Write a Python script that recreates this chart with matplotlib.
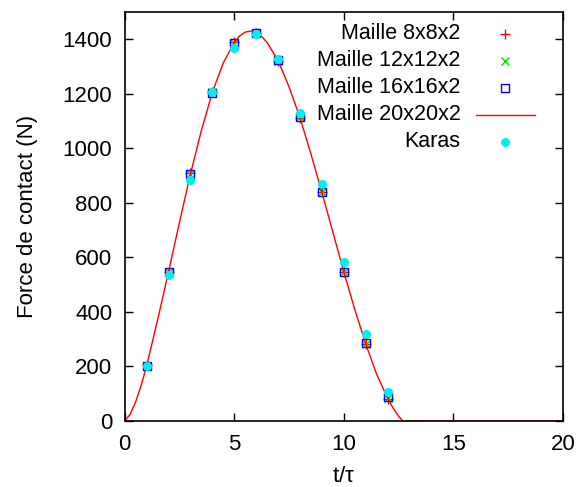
import matplotlib.pyplot as plt
import numpy as np

plt.rcParams.update({'font.family': ['Liberation Sans', 'DejaVu Sans'],
                     'font.size': 16})

# discrete results (t/tau, force N)
t_pts = [1, 2, 3, 4, 5, 6, 7, 8, 9, 10, 11, 12]
f_8 = [204, 548, 908, 1206, 1388, 1423, 1320, 1112, 838, 548, 283, 80]
f_12 = [203, 547, 906, 1205, 1387, 1422, 1321, 1113, 839, 547, 284, 84]
f_16 = [202, 546, 906, 1204, 1386, 1421, 1322, 1114, 838, 546, 285, 89]
f_karas = [202, 534, 884, 1206, 1367, 1418, 1327, 1129, 870, 582, 319, 108]

# continuous curve, 20x20x2 mesh
t_curve = [0, 0.25, 0.5, 0.75, 1, 1.5, 2, 2.5, 3, 3.5, 4, 4.5, 5, 5.25, 5.5,
           5.75, 6, 6.25, 6.5, 7, 7.5, 8, 8.5, 9, 9.5, 10, 10.5, 11, 11.5,
           12, 12.25, 12.5, 12.7, 13, 20]
f_curve = [0, 25, 70, 130, 202, 370, 547, 728, 905, 1065, 1205, 1313, 1388,
           1412, 1426, 1430, 1424, 1410, 1388, 1322, 1226, 1113, 980, 839,
           694, 548, 410, 284, 172, 84, 48, 18, 0, 0, 0]

labels = ['Maille 8x8x2', 'Maille 12x12x2', 'Maille 16x16x2',
          'Maille 20x20x2', 'Karas']

fig = plt.figure(figsize=(5.76, 4.87), dpi=100)
ax = fig.add_axes([0.2165, 0.1355, 0.7605, 0.84])

st8 = dict(ls='none', marker='+', ms=6.5, mew=1, color='#ff0000')
st12 = dict(ls='none', marker='x', ms=5.5, mew=1, color='#00e000')
st16 = dict(ls='none', marker='s', ms=6, mew=1, mfc='none', color='#0000ff')
stk = dict(ls='none', marker='o', ms=6.5, color='#00eeee', mec='none')

ax.plot(t_pts, f_8, **st8)
ax.plot(t_pts, f_12, **st12)
ax.plot(t_pts, f_16, **st16)
ax.plot(t_curve, f_curve, ls='-', lw=1, color='#ff0000')
ax.plot(t_pts, f_karas, **stk)

ax.set_xlim(0, 20)
ax.set_ylim(0, 1500)
ax.set_xticks(np.arange(0, 21, 5))
ax.set_yticks(np.arange(0, 1401, 200))
ax.tick_params(direction='in', length=6, width=1, top=True, right=True, pad=9)
for s in ax.spines.values():
    s.set_linewidth(1.2)
ax.set_xlabel(r't/$\mathregular{\tau}$', labelpad=8)
ax.set_ylabel('Force de contact (N)', labelpad=18)

# gnuplot-style key: labels right-aligned, sample on the right
styles = [st8, st12, st16, None, stk]
for i, (lab, st) in enumerate(zip(labels, styles)):
    y = 0.947 - i * 0.066
    ax.text(0.767, y, lab, transform=ax.transAxes, ha='right', va='center',
            fontsize=15.5)
    if st is None:
        ax.plot([0.801, 0.936], [y, y], transform=ax.transAxes,
                color='#ff0000', lw=1, clip_on=False)
    else:
        ax.plot([0.868], [y], transform=ax.transAxes, clip_on=False, **st)

fig.savefig('out.png', dpi=100)
